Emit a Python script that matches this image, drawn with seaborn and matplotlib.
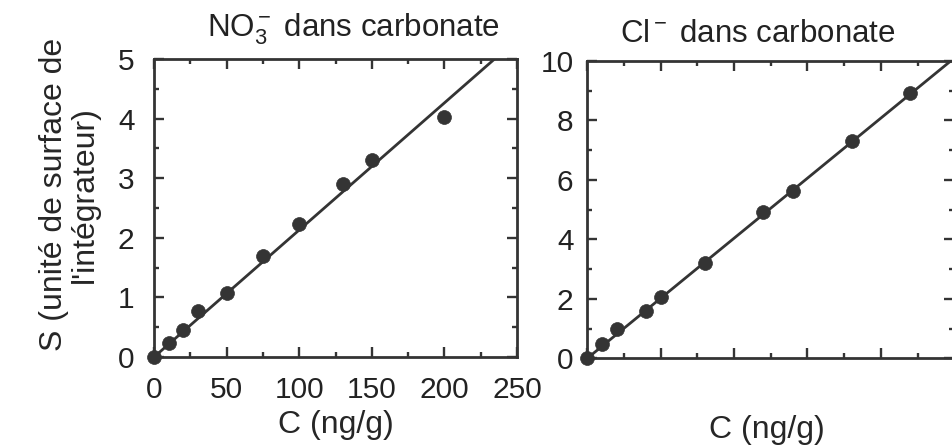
import matplotlib
matplotlib.use("Agg")
import matplotlib.pyplot as plt
from matplotlib.ticker import MultipleLocator
import pandas as pd
import seaborn as sns

# NO3- in carbonate
no3_c = [0, 10, 20, 30, 50, 75, 100, 130, 150, 200]
no3_s = [0, 0.23, 0.46, 0.78, 1.08, 1.70, 2.24, 2.91, 3.31, 4.02]
no3_fit_c = [0, 250]
no3_fit_s = [0, 5.33]

# Cl- in carbonate
cl_c = [0, 10, 20, 40, 50, 80, 120, 140, 180, 220]
cl_s = [0, 0.47, 0.99, 1.60, 2.07, 3.22, 4.92, 5.62, 7.32, 8.91]
cl_fit_c = [0, 250]
cl_fit_s = [0, 10.1]

INK = "#343434"


def setup_axes(ax, ymax, ymajor, yminor):
    ax.set_xlim(0, 250)
    ax.set_ylim(0, ymax)
    ax.xaxis.set_major_locator(MultipleLocator(50))
    ax.xaxis.set_minor_locator(MultipleLocator(25))
    ax.yaxis.set_major_locator(MultipleLocator(ymajor))
    ax.yaxis.set_minor_locator(MultipleLocator(yminor))
    ax.tick_params(which="both", direction="in", top=True, right=True,
                   color=INK, width=1.7)
    ax.tick_params(which="major", length=7.5)
    ax.tick_params(which="minor", length=3.8)
    for sp in ax.spines.values():
        sp.set_linewidth(2.0)
        sp.set_color(INK)
        sp.set_visible(True)


def draw_panel(ax, c, s, fit_c, fit_s):
    fit = pd.DataFrame({"C": fit_c, "S": fit_s})
    pts = pd.DataFrame({"C": c, "S": s})
    sns.lineplot(data=fit, x="C", y="S", ax=ax, color=INK, linewidth=2.0)
    sns.scatterplot(data=pts, x="C", y="S", ax=ax, color=INK, s=100,
                    edgecolor=INK, linewidth=0.5, clip_on=False, zorder=5)


def main():
    sns.set_style("ticks")
    plt.rcParams["font.family"] = ["Liberation Sans", "DejaVu Sans"]
    plt.rcParams["mathtext.fontset"] = "custom"
    plt.rcParams["mathtext.rm"] = "Liberation Sans"
    plt.rcParams["mathtext.it"] = "Liberation Sans"
    plt.rcParams["text.color"] = "#222222"
    plt.rcParams["xtick.color"] = "#222222"
    plt.rcParams["ytick.color"] = "#222222"

    fig = plt.figure(figsize=(9.52, 4.48), dpi=100)
    ax1 = fig.add_axes([0.1618, 0.2031, 0.3813, 0.6652])
    ax2 = fig.add_axes([0.6169, 0.2002, 0.3855, 0.6636])

    draw_panel(ax1, no3_c, no3_s, no3_fit_c, no3_fit_s)
    setup_axes(ax1, 5, 1, 0.5)
    ax1.tick_params(axis="x", labelsize=21.5, pad=14)
    ax1.tick_params(axis="y", labelsize=21.5, pad=14)
    ax1.set_xlabel("C (ng/g)", fontsize=23)
    ax1.xaxis.set_label_coords(0.5, -0.178)
    ax1.set_ylabel("S (unité de surface de\nl'intégrateur)", fontsize=23,
                   linespacing=1.05)
    ax1.yaxis.set_label_coords(-0.148, 0.545)
    ax1.set_title("NO$_3^-$ dans carbonate", fontsize=22.5, x=0.55, pad=16)

    draw_panel(ax2, cl_c, cl_s, cl_fit_c, cl_fit_s)
    setup_axes(ax2, 10, 2, 1)
    ax2.tick_params(axis="x", labelbottom=False)
    ax2.tick_params(axis="y", labelsize=21.5, pad=10)
    ax2.set_xlabel("C (ng/g)", fontsize=23)
    ax2.xaxis.set_label_coords(0.49, -0.19)
    ax2.set_ylabel("")
    ax2.set_title("Cl$^-$ dans carbonate", fontsize=22.5, x=0.465, pad=14)

    fig.savefig("out.png", dpi=100)


if __name__ == "__main__":
    main()
